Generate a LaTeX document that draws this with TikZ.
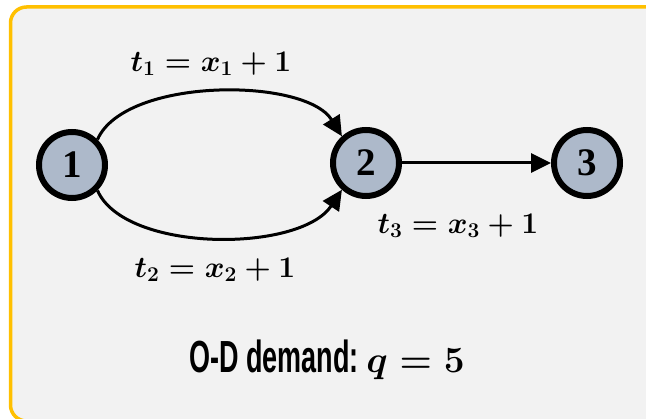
\RequirePackage{fix-cm}
\documentclass[tikz,border=0pt]{standalone}
\usepackage{fontspec}
\usetikzlibrary{arrows.meta}
\newfontfamily\nodefont{Liberation Serif}
\newfontfamily\condfont[FakeStretch=0.6]{Liberation Sans Bold}
\definecolor{panelbg}{HTML}{F2F2F2}
\definecolor{panelborder}{HTML}{FFC000}
\definecolor{nodefill}{HTML}{ADB9CA}
\newcommand{\bigmathq}{{\fontsize{37}{37}\selectfont\boldmath$q = 5$}}
\tikzset{
  vertex/.style={circle, draw=black, fill=nodefill, line width=6pt, minimum size=66pt, inner sep=0pt, font=\nodefont\bfseries\fontsize{39}{39}\selectfont},
  link/.style={line width=3pt, -{Triangle[length=20pt,width=19pt]}},
  eqlabel/.style={inner sep=0pt, font=\fontsize{30}{30}\selectfont\boldmath},
  demlabel/.style={inner sep=0pt, anchor=base, font=\condfont\fontsize{45}{45}\selectfont},
}
\begin{document}
\begin{tikzpicture}[x=1pt,y=-1pt]
\useasboundingbox (0,0) rectangle (646,419);
\clip (0,0) rectangle (646,419);
\fill[white] (0,0) rectangle (646,419);
\draw[panelborder, fill=panelbg, line width=3.5pt, rounded corners=16pt] (10.5,7) rectangle (680,421);
\node[vertex] (n1) at (72,165) {1};
\node[vertex] (n2) at (366,163) {2};
\node[vertex] (n3) at (587,163) {3};
\draw[link] (n1.45) .. controls (125,77) and (305,77) .. (n2.132);
\draw[link] (n1.-45) .. controls (125,253) and (300,253) .. (n2.-132);
\draw[link] (n2) -- (n3);
\node[eqlabel] (l1) at (211,64) {$t_1 = x_1 + 1$};
\node[eqlabel] (l2) at (215,270) {$t_2 = x_2 + 1$};
\node[eqlabel] (l3) at (458,226) {$t_3 = x_3 + 1$};
\node[demlabel] (dem) at (327,373) {O-D demand:~\bigmathq};
\end{tikzpicture}
\end{document}
